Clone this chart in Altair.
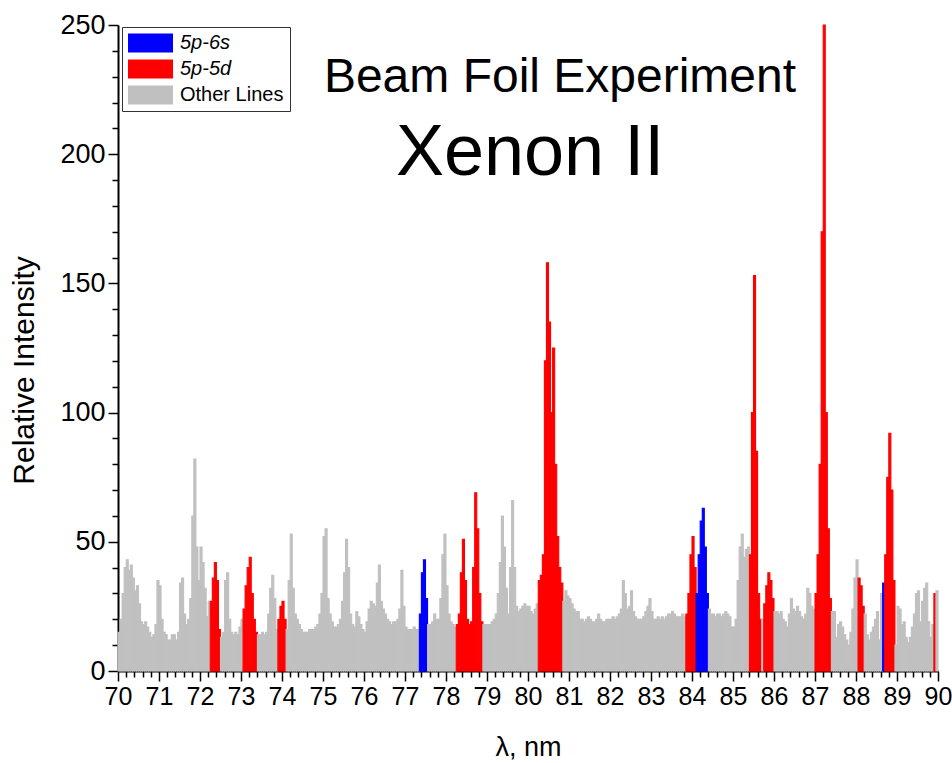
import altair as alt
import pandas as pd

# Relative intensity, sampled every 0.05 nm; one list per nanometre (x.00 ... x.95)
i70 = [15, 20, 30, 40, 43, 39, 41, 36, 31, 33, 26, 19, 18, 19, 17, 15, 13, 14, 18, 35]
i71 = [33, 20, 15, 14, 12, 12, 14, 14, 12, 15, 34, 36, 22, 18, 20, 28, 60, 82, 48, 35]
i72 = [48, 42, 32, 21, 27, 27, 36, 42, 35, 16, 13, 15, 35, 38, 20, 15, 14, 15, 14, 17]
i73 = [20, 24, 33, 40, 44, 30, 20, 15, 14, 14, 15, 14, 15, 22, 32, 37, 28, 16, 20, 25]
i74 = [27, 20, 16, 35, 53, 32, 22, 20, 18, 16, 15, 15, 15, 16, 16, 16, 17, 18, 22, 30]
i75 = [52, 55, 28, 22, 19, 17, 17, 18, 20, 27, 38, 51, 40, 22, 18, 17, 23, 21, 18, 16]
i76 = [15, 19, 24, 27, 26, 25, 34, 41, 27, 24, 22, 20, 19, 18, 19, 19, 20, 24, 39, 25]
i77 = [17, 16, 16, 16, 17, 16, 16, 22, 38, 43, 28, 18, 18, 19, 22, 20, 20, 28, 45, 53]
i78 = [33, 22, 19, 18, 17, 18, 22, 38, 51, 35, 20, 18, 19, 40, 69, 55, 30, 19, 18, 18]
i79 = [18, 18, 19, 20, 22, 30, 42, 60, 48, 32, 22, 40, 66, 40, 25, 23, 24, 25, 26, 25]
i80 = [25, 23, 22, 24, 26, 35, 37, 45, 120, 158, 135, 100, 125, 80, 52, 40, 34, 27, 31, 29]
i81 = [28, 26, 24, 23, 23, 20, 20, 19, 20, 21, 20, 19, 19, 20, 22, 20, 19, 19, 20, 20]
i82 = [20, 21, 20, 21, 22, 24, 35, 30, 24, 25, 31, 23, 21, 20, 20, 20, 21, 23, 25, 28]
i83 = [23, 20, 20, 21, 20, 21, 20, 21, 22, 22, 23, 22, 21, 21, 21, 22, 21, 22, 30, 45]
i84 = [52, 40, 30, 45, 58, 63, 48, 30, 24, 22, 22, 21, 22, 22, 21, 22, 23, 22, 21, 17]
i85 = [17, 20, 35, 48, 53, 44, 47, 48, 45, 100, 153, 85, 30, 20, 20, 26, 33, 38, 35, 28]
i86 = [23, 23, 22, 23, 20, 19, 17, 22, 28, 24, 23, 25, 23, 21, 20, 22, 32, 30, 25, 24]
i87 = [30, 45, 80, 170, 250, 100, 55, 28, 23, 23, 13, 18, 19, 17, 14, 12, 10, 15, 24, 36]
i88 = [43, 36, 33, 25, 22, 14, 12, 15, 17, 20, 23, 12, 30, 34, 45, 75, 92, 70, 35, 10]
i89 = [25, 24, 18, 19, 13, 11, 13, 17, 22, 30, 31, 19, 27, 32, 34, 19, 13, 18, 30, 31]
spectrum = [i70, i71, i72, i73, i74, i75, i76, i77, i78, i79,
            i80, i81, i82, i83, i84, i85, i86, i87, i88, i89]
first_nm = 70
step_nm = 0.05

# Transition bands (nm)
red_start = [72.25, 73.05, 73.90, 78.25, 80.25, 83.85, 85.40, 85.75, 87.00, 88.05, 88.70, 89.90]
red_end = [72.50, 73.40, 74.10, 78.90, 80.85, 84.10, 85.70, 86.00, 87.40, 88.20, 88.95, 89.95]
blue_start = [77.35, 84.10, 88.65]
blue_end = [77.55, 84.40, 88.70]

legend_names = ["5p-6s", "5p-5d", "Other Lines"]
legend_colors = ["#0000FF", "#FF0000", "#C0C0C0"]

title_text = ["Beam Foil Experiment", "Xenon II"]
title_nm = [80.78, 80.05]
title_val = [224, 192]
title_size = [48, 72]

x_ticks = [round(70 + 0.2 * k, 1) for k in range(101)]
y_ticks = list(range(0, 251, 10))


def category(lo):
    for s, e in zip(blue_start, blue_end):
        if s - 1e-6 <= lo < e - 1e-6:
            return legend_names[0]
    for s, e in zip(red_start, red_end):
        if s - 1e-6 <= lo < e - 1e-6:
            return legend_names[1]
    return legend_names[2]


rows = []
for k, seg in enumerate(spectrum):
    for j, v in enumerate(seg):
        lo = round(first_nm + k + j * step_nm, 2)
        rows.append({"lo": lo, "hi": round(lo + step_nm, 2), "I": v, "base": 0, "cat": category(lo)})
df = pd.DataFrame(rows)

tdf = pd.DataFrame({"t": title_text, "nm": title_nm, "val": title_val, "fs": title_size})

xs = alt.Scale(domain=[70, 90], nice=False, zero=False)
ys = alt.Scale(domain=[0, 250], nice=False)
cs = alt.Scale(domain=legend_names, range=legend_colors)

x_axis = alt.Axis(
    values=x_ticks,
    labelExpr="abs(datum.value - round(datum.value)) < 0.01 ? format(datum.value, 'd') : ''",
    tickSize={"condition": {"test": "abs(datum.value - round(datum.value)) < 0.01", "value": 10}, "value": 6},
    title="λ, nm",
    titleFont="Liberation Sans", titleFontSize=27, titleFontWeight="normal", titleColor="black",
    titleY=84, titleBaseline="alphabetic",
    labelFont="Liberation Sans Narrow, Arial Narrow, Liberation Sans", labelFontSize=25, labelColor="black",
    labelPadding=3, labelOverlap=False, labelFlush=False,
    domainColor="black", domainWidth=2, tickColor="black", tickWidth=1.5, grid=False,
)
y_axis = alt.Axis(
    values=y_ticks,
    labelExpr="datum.value % 50 === 0 ? datum.label : ''",
    tickSize={"condition": {"test": "datum.value % 50 === 0", "value": 10}, "value": 6},
    title="Relative Intensity",
    titleFont="Liberation Sans", titleFontSize=30, titleFontWeight="normal", titleColor="black",
    titleAngle=270, titleAlign="center", titleBaseline="middle", titleX=-94, titleY=345,
    labelFont="Liberation Sans", labelFontSize=27, labelColor="black", labelPadding=3,
    labelOverlap=False, labelFlush=False,
    domainColor="black", domainWidth=2, tickColor="black", tickWidth=1.5, grid=False,
)

bars = alt.Chart(df).mark_rect(strokeWidth=1.1).encode(
    x=alt.X("lo:Q", scale=xs, axis=x_axis),
    x2="hi:Q",
    y=alt.Y("I:Q", scale=ys, axis=y_axis),
    y2="base:Q",
    color=alt.Color(
        "cat:N", scale=cs,
        legend=alt.Legend(
            title=None, orient="none", legendX=4, legendY=2,
            symbolType="M-2,-1.9H7V1.9H-2Z", symbolSize=100, symbolStrokeWidth=0,
            symbolOpacity=1, labelOffset=32,
            labelFont="Liberation Sans", labelFontSize=20, labelColor="black",
            labelFontStyle=alt.ExprRef(expr="datum.label === 'Other Lines' ? 'normal' : 'italic'"),
            rowPadding=6, padding=6, strokeColor="#333333", fillColor="white",
        ),
    ),
    stroke=alt.Stroke("cat:N", scale=cs, legend=None),
)

titles = alt.Chart(tdf).mark_text(
    font="Liberation Sans", align="center", baseline="alphabetic", color="black"
).encode(
    x=alt.X("nm:Q", scale=xs, axis=x_axis),
    y=alt.Y("val:Q", scale=ys, axis=y_axis),
    text="t:N",
    size=alt.Size("fs:Q", scale=None),
)

chart = alt.layer(bars, titles).properties(
    width=820, height=646,
    autosize=alt.AutoSizeParams(type="none"),
    padding={"left": 118, "top": 25, "right": 14, "bottom": 92},
    background="white",
).configure_view(stroke=None)

chart.save("out.html", embed_options={"renderer": "svg", "actions": False})
